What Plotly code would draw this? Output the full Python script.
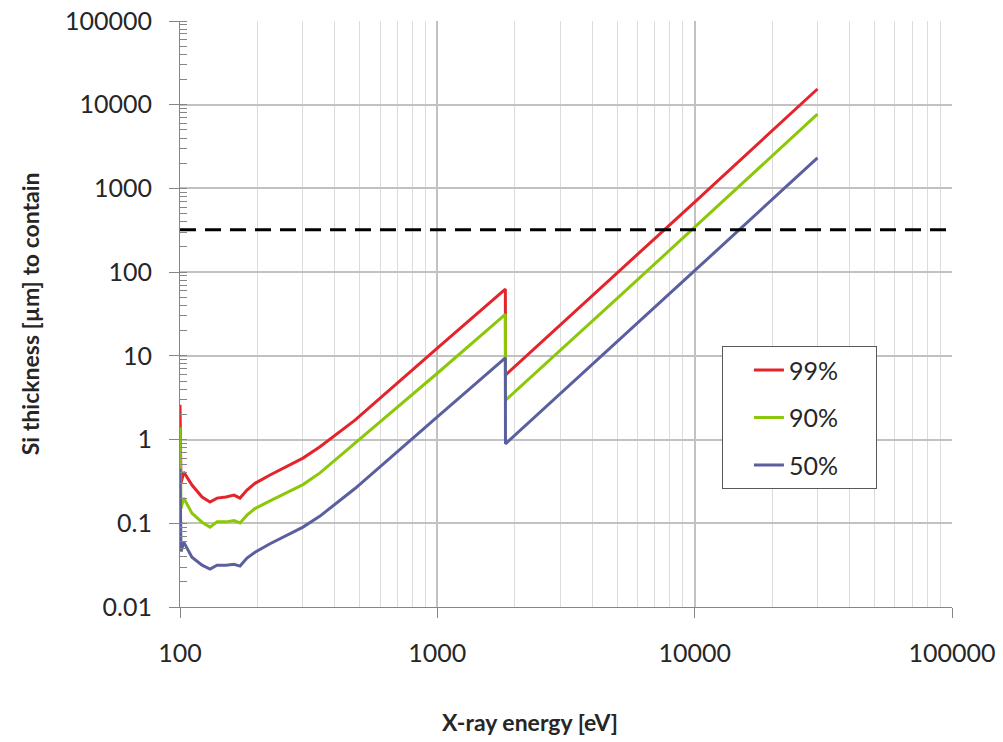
import plotly.graph_objects as go

# X-ray energy [eV]
energy = [100, 100.9, 103.4, 111.3, 121.8, 130.8, 139.3, 150.9, 162.1, 171.1, 182.1,
          195.6, 223.8, 300.6, 350, 478.7, 1000, 1838, 1840, 5000, 10000, 30000]

# Si thickness [um] to contain the given fraction
red_99 = [2.6, 0.30, 0.41, 0.286, 0.206, 0.179, 0.200, 0.206, 0.217, 0.200, 0.249,
          0.30, 0.377, 0.601, 0.82, 1.71, 12.4, 62.8, 5.9, 97, 687, 15400]
green_90 = [1.4, 0.15, 0.200, 0.132, 0.103, 0.090, 0.104, 0.104, 0.108, 0.101, 0.125,
            0.15, 0.185, 0.29, 0.40, 0.90, 6.2, 31.4, 2.95, 48.5, 343, 7700]
blue_50 = [0.45, 0.046, 0.0596, 0.0394, 0.0316, 0.0284, 0.0316, 0.0316, 0.0324, 0.0308, 0.0384,
           0.045, 0.057, 0.090, 0.122, 0.26, 1.87, 9.45, 0.89, 14.6, 104, 2320]

series_names = ["99%", "90%", "50%"]
series_colors = ["#e3242b", "#8cc80a", "#5c5f9f"]

# dashed reference thickness
threshold_x = [100, 100000]
threshold_y = [320, 320]

FONT = "Lato"
TXT = "#262626"
AX = "#868686"
PAD = "\u00a0" * 5

fig = go.Figure()
for name, vals, col in zip(series_names, [red_99, green_90, blue_50], series_colors):
    fig.add_trace(go.Scatter(x=energy, y=vals, mode="lines", name=name + PAD, legendgroup=name,
                             line=dict(color=col, width=3)))

fig.add_trace(go.Scatter(x=threshold_x, y=threshold_y, mode="lines", showlegend=False,
                         line=dict(color="black", width=3, dash="16px,9px")))

axis_common = dict(type="log", dtick=1, tickformat="~g",
                   showline=True, linecolor=AX, linewidth=1,
                   ticks="outside", ticklen=10, tickcolor=AX, tickwidth=1,
                   showgrid=True, gridcolor="#c2c2c2", gridwidth=1.6, zeroline=False,
                   tickfont=dict(family=FONT, size=25, color=TXT))

fig.update_layout(
    width=1003, height=742,
    margin=dict(l=180, r=51, t=21, b=135, autoexpand=False),
    paper_bgcolor="white", plot_bgcolor="white",
    font=dict(family=FONT, size=25, color=TXT),
    xaxis=dict(axis_common, range=[2, 5], ticklabelstandoff=14,
               minor=dict(dtick="D1", showgrid=True, gridcolor="#dcdcdc", gridwidth=1.4)),
    yaxis=dict(axis_common, range=[-2, 5], ticklabelstandoff=12,
               minor=dict(dtick="D1", ticks="inside", ticklen=7, tickcolor=AX, showgrid=False)),
    legend=dict(x=0.702, y=0.445, xanchor="left", yanchor="top",
                bordercolor="#595959", borderwidth=1, bgcolor="white",
                font=dict(family=FONT, size=25, color=TXT), indentation=26,
                traceorder="grouped", tracegroupgap=12),
    annotations=[
        dict(text="<b>X-ray energy [eV]</b>", xref="paper", yref="paper", x=0.453, y=-0.196,
             xanchor="center", yanchor="middle", showarrow=False,
             font=dict(family=FONT, size=23, color=TXT)),
        dict(text="<b>Si thickness [µm] to contain</b>", xref="paper", yref="paper", x=-0.194, y=0.5,
             xanchor="center", yanchor="middle", textangle=-90, showarrow=False,
             font=dict(family=FONT, size=23, color=TXT)),
    ],
)

fig.write_html("out.html")
